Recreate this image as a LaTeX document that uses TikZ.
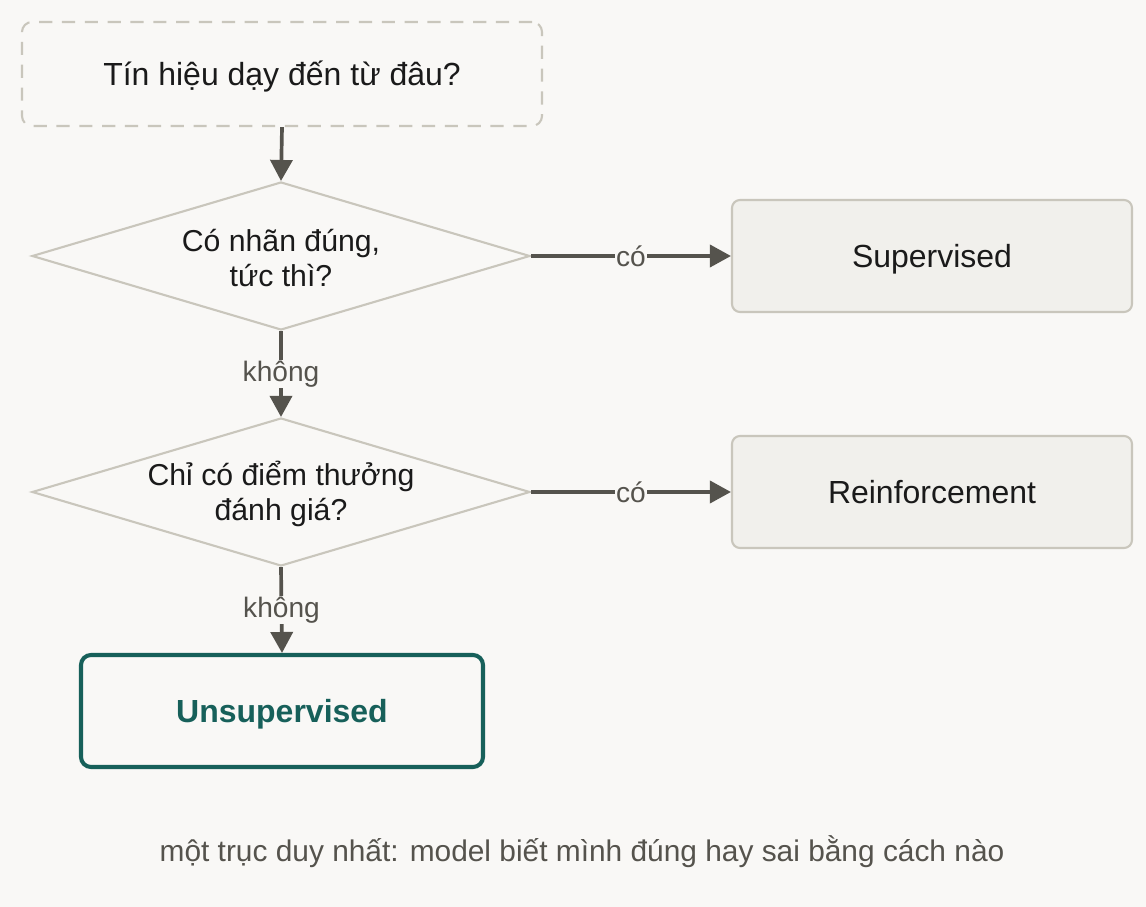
\documentclass[tikz,border=0pt]{standalone}
\usepackage{fontspec}
\setmainfont{Liberation Sans}
\usepackage{xcolor}
\definecolor{paper}{HTML}{F9F8F6}
\definecolor{ink}{HTML}{1A1A1A}
\definecolor{wire}{HTML}{55534D}
\definecolor{edge}{HTML}{C9C6BC}
\definecolor{boxfill}{HTML}{F1F0EC}
\definecolor{teal}{HTML}{17605A}
\usetikzlibrary{arrows.meta, shapes.geometric}

\begin{document}
\begin{tikzpicture}[every node/.style={text=ink},
  flow/.style={draw=wire, line width=2.1pt, -{Triangle[length=0.42cm, width=0.44cm]}},
  answer/.style={font=\fontsize{16}{19}\selectfont, text=wire, fill=paper, inner sep=0.5pt}]
  % background
  \fill[paper] (0,0) rectangle (22.92,-18.14);
  \useasboundingbox (0,0) rectangle (22.92,-18.14);
  % question box on top
  \node[draw=edge, line width=1.2pt, dash pattern=on 7.5pt off 5.5pt, rounded corners=0.2cm, fill=paper, minimum width=10.4cm, minimum height=2.08cm, text height=13pt, text depth=0pt, font=\fontsize{18.2}{22}\selectfont] (question) at (5.64,-1.48) {Tín hiệu dạy đến từ đâu?};
  % first decision
  \node[draw=edge, line width=1.2pt, diamond, fill=paper, minimum width=9.96cm, minimum height=2.96cm, inner sep=0pt, label={[align=center, font=\fontsize{17.2}{19.5}\selectfont, text=ink, yshift=-0.04cm]center:Có nhãn đúng,\\tức thì?}] (labels) at (5.62,-5.12) {};
  % second decision
  \node[draw=edge, line width=1.2pt, diamond, fill=paper, minimum width=9.96cm, minimum height=2.96cm, inner sep=0pt, label={[align=center, font=\fontsize{17.2}{19.5}\selectfont, text=ink, yshift=-0.04cm]center:Chỉ có điểm thưởng\\đánh giá?}] (reward) at (5.62,-9.84) {};
  % outcomes
  \node[draw=edge, line width=1.2pt, rounded corners=0.16cm, fill=boxfill, minimum width=8.0cm, minimum height=2.24cm, text height=13pt, text depth=0pt, font=\fontsize{18.2}{22}\selectfont] (supervised) at (18.64,-5.12) {Supervised};
  \node[draw=edge, line width=1.2pt, rounded corners=0.16cm, fill=boxfill, minimum width=8.0cm, minimum height=2.24cm, text height=13pt, text depth=0pt, font=\fontsize{18.2}{22}\selectfont] (reinforcement) at (18.64,-9.84) {Reinforcement};
  \node[draw=teal, line width=2.3pt, rounded corners=0.2cm, fill=paper, minimum width=8.04cm, minimum height=2.24cm, text height=13pt, text depth=0pt, font=\fontsize{18.2}{22}\selectfont\bfseries, text=teal] (unsupervised) at (5.64,-14.22) {Unsupervised};

  % arrows
  \draw[flow] (question.south) -- (labels.north);
  \draw[flow] (labels.east) -- node[answer] {có} (supervised.west);
  \draw[flow] (labels.south) -- node[answer] {không} (reward.north);
  \draw[flow] (reward.east) -- node[answer] {có} (reinforcement.west);
  \draw[flow] (reward.south) -- node[answer] {không} (unsupervised.north);

  % caption
  \node[font=\fontsize{17}{20}\selectfont, text=wire] (caption) at (11.64,-17.04) {một trục duy nhất: model biết mình đúng hay sai bằng cách nào};
\end{tikzpicture}
\end{document}
